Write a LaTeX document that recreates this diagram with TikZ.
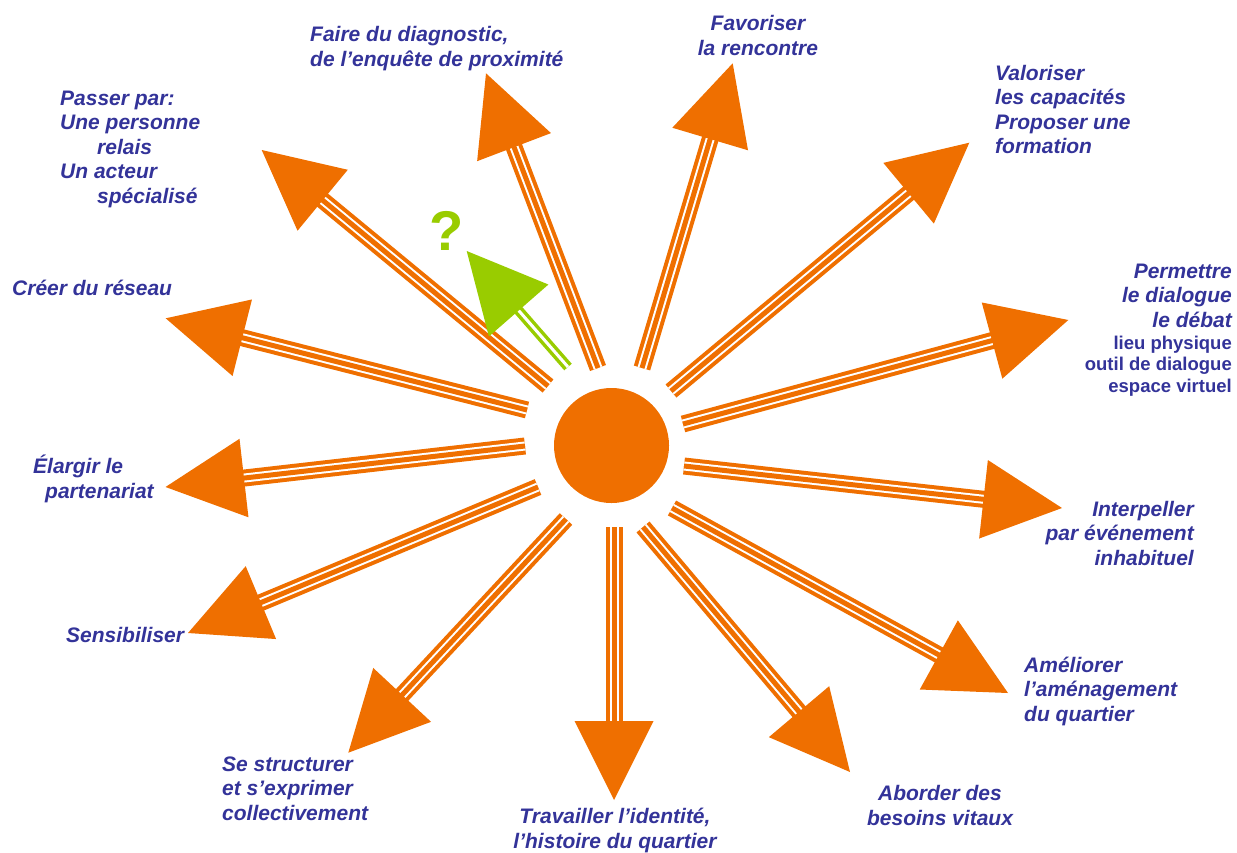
\documentclass[tikz,border=0pt]{standalone}
\usepackage{fontspec}
\setmainfont{Liberation Sans}
\usetikzlibrary{calc}
\definecolor{orng}{HTML}{EF6F00}
\definecolor{lblue}{HTML}{333399}
\definecolor{lgreen}{HTML}{99CC00}
\begin{document}
\begin{tikzpicture}[x=1pt,y=-1pt,
  lbl/.style={text=lblue, font=\bfseries\itshape\fontsize{21}{24.5}\selectfont, inner sep=0pt},
  sublbl/.style={text=lblue, font=\bfseries\fontsize{18.5}{21.3}\selectfont, inner sep=0pt},
  shaftA/.style={draw=orng, line width=17pt},
  shaftB/.style={draw=white, line width=9pt},
  shaftC/.style={draw=orng, line width=5pt},
  headfill/.style={fill=orng},
  gshaftA/.style={draw=lgreen, line width=10pt},
  gshaftB/.style={draw=white, line width=3pt},
]
\useasboundingbox (0,0) rectangle (1237,852);

% centre
\node[circle, fill=orng, minimum size=115pt, inner sep=0pt] (c) at (611.5,445.5) {};

% orange arrows: start / tip / name
\foreach \sx/\sy/\tx/\ty/\n in {
  548/386/261.7/150/pas,
  598/368/486/73.3/dia,
  642/368/732.7/63.3/fav,
  671/391/969.3/142.7/val,
  683/424/1068.3/320/per,
  684/466/1062/508/int,
  672/508/1008/693/ame,
  643/527/850/772/abo,
  614/527/614/800/tra,
  566/519/348.3/752.7/str,
  538/487/188/633/sen,
  525/446/165.5/487/ela,
  527/410/165.7/318.3/cre}{
  \coordinate (s\n) at (\sx,\sy);
  \coordinate (t\n) at (\tx,\ty);
  \coordinate (b\n) at ($(t\n)!78pt!(s\n)$);
  \draw[shaftA] (s\n) -- (b\n);
  \draw[shaftB] (s\n) -- (b\n);
  \draw[shaftC] (s\n) -- (b\n);
  \fill[headfill] (t\n) -- ($(t\n)!79pt!(s\n)!39.5pt!90:(t\n)$) -- ($(t\n)!79pt!(s\n)!39.5pt!-90:(t\n)$) -- cycle;
}

% green arrow
\coordinate (sgr) at (568,367);
\coordinate (tgr) at (466.7,251);
\coordinate (bgr) at ($(tgr)!78pt!(sgr)$);
\draw[gshaftA] (sgr) -- (bgr);
\draw[gshaftB] (sgr) -- (bgr);
\fill[lgreen] (tgr) -- ($(tgr)!79pt!(sgr)!39.5pt!90:(tgr)$) -- ($(tgr)!79pt!(sgr)!39.5pt!-90:(tgr)$) -- cycle;
\node[text=lgreen, font=\bfseries\fontsize{56}{56}\selectfont, inner sep=0pt, anchor=base] (q) at (447,250) {?};

% labels (base anchor = baseline of the last line)
\node[lbl, align=left, anchor=base west] (Lpas) at (60,203) {Passer par:\\Une personne\\\hspace*{37pt}relais\\Un acteur\\\hspace*{37pt}spécialisé};
\node[lbl, align=left, anchor=base west] (Ldia) at (310,66) {Faire du diagnostic,\\de l’enquête de proximité};
\node[lbl, align=center, anchor=base] (Lfav) at (758,55) {Favoriser\\la rencontre};
\node[lbl, align=left, anchor=base west] (Lval) at (995,153.5) {Valoriser\\les capacités\\Proposer une\\formation};
\node[lbl, align=right, anchor=base east] (Lper) at (1232,327) {Permettre\\le dialogue\\le débat};
\node[sublbl, align=right, anchor=base east] (Lper2) at (1232,392) {lieu physique\\outil de dialogue\\espace virtuel};
\node[lbl, anchor=base west] (Lcre) at (12,295) {Créer du réseau};
\node[lbl, align=left, anchor=base west] (Lela) at (33,498) {Élargir le\\\hspace*{12pt}partenariat};
\node[lbl, align=right, anchor=base east] (Lint) at (1194,565) {Interpeller\\par événement\\inhabituel};
\node[lbl, anchor=base west] (Lsen) at (66,642) {Sensibiliser};
\node[lbl, align=left, anchor=base west] (Lame) at (1024,721) {Améliorer\\l’aménagement\\du quartier};
\node[lbl, align=left, anchor=base west] (Lstr) at (222,820) {Se structurer\\et s’exprimer\\collectivement};
\node[lbl, align=center, anchor=base] (Labo) at (940,825) {Aborder des\\besoins vitaux};
\node[lbl, align=center, anchor=base] (Ltra) at (615,848) {Travailler l’identité,\\l’histoire du quartier};
\end{tikzpicture}
\end{document}
